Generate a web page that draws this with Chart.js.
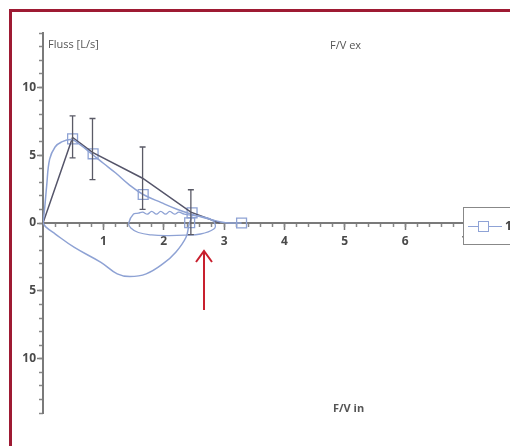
<!DOCTYPE html>
<html lang="de">
<head>
<meta charset="UTF-8">
<title>F/V Kurve</title>
<script src="https://cdn.jsdelivr.net/npm/chart.js"></script>
<style>
    body { margin: 0; background: #fff; }
    #wrap { position: relative; width: 510px; height: 446px; overflow: hidden; font-family: "Open Sans", "Noto Sans", sans-serif; }
    #frame { position: absolute; left: 9px; top: 9px; width: 520px; height: 460px; border-left: 3px solid #9e1a33; border-top: 3px solid #9e1a33; box-sizing: border-box; }
    .lbl { position: absolute; font-size: 11px; color: #555; white-space: nowrap; }
    #legend { position: absolute; left: 463px; top: 207px; width: 60px; height: 38px; border: 1px solid #888; background: #fff; box-sizing: border-box; }
    #legend .ln { position: absolute; left: 4px; top: 18px; width: 34px; height: 1px; background: #8fa3d6; }
    #legend .sq { position: absolute; left: 14px; top: 13px; width: 9px; height: 9px; border: 1px solid #8fa3d6; background: #fff; }
    #legend .tx { position: absolute; left: 41px; top: 9px; font-size: 12px; font-weight: bold; color: #444; }
</style>
</head>
<body>
<div id="wrap">
    <canvas id="fvChart" width="510" height="446"></canvas>
    <div id="frame"></div>
    <div class="lbl" style="left:48px; top:36px;">Fluss [L/s]</div>
    <div class="lbl" style="left:330px; top:37px;">F/V ex</div>
    <div class="lbl" style="left:333px; top:400px; font-weight:bold;">F/V in</div>
    <div id="legend"><div class="ln"></div><div class="sq"></div><div class="tx">1</div></div>
    <svg width="510" height="446" style="position:absolute; left:0; top:0;">
        <line x1="204" y1="310" x2="204" y2="252" stroke="#c8202e" stroke-width="2"/>
        <polyline points="196,262 204,251 212,262" fill="none" stroke="#c8202e" stroke-width="2"/>
    </svg>
</div>

<script>
// Ausatmung (gemessene Kurve)
const expX = [0, 0.03, 0.06, 0.11, 0.2, 0.3, 0.47, 0.62, 0.82, 1.0, 1.2, 1.42, 1.66, 1.96, 2.23, 2.5, 2.75, 2.95, 3.1, 3.29];
const expY = [0, 1.2, 2.7, 4.7, 5.6, 5.95, 6.15, 5.75, 5.05, 4.4, 3.7, 2.85, 2.1, 1.5, 1.0, 0.6, 0.3, 0.08, 0, 0];

// Einatmung
const inX = [0, 0.05, 0.2, 0.52, 0.96, 1.23, 1.44, 1.71, 1.99, 2.2, 2.37, 2.42, 2.47];
const inY = [0, -0.3, -0.8, -1.8, -2.9, -3.75, -3.95, -3.75, -3.0, -2.15, -1.05, -0.1, 0.5];

// kleine Schleife
const loopX = [2.6, 2.34, 2.25, 2.18, 2.1, 2.03, 1.95, 1.88, 1.8, 1.73, 1.65, 1.58, 1.5, 1.42, 1.45, 1.58, 1.8, 2.07, 2.35, 2.61, 2.83, 2.85, 2.77, 2.6];
const loopY = [0.5, 0.66, 0.8, 0.65, 0.85, 0.65, 0.85, 0.65, 0.85, 0.65, 0.8, 0.72, 0.66, 0.0, -0.35, -0.7, -0.88, -0.93, -0.9, -0.81, -0.44, -0.07, 0.3, 0.5];

// Mittelwert mit Fehlerbalken
const meanX = [0, 0.49, 0.82, 1.65, 2.45, 2.93];
const meanY = [0, 6.3, 5.2, 3.3, 0.8, 0];
const errHigh = [null, 7.9, 7.7, 5.6, 2.45, null];
const errLow = [null, 4.8, 3.2, 1.0, -0.85, null];

// Messpunkte (Serie 1)
const markX = [0.49, 0.83, 1.66, 2.47, 2.43, 3.29];
const markY = [6.2, 5.1, 2.1, 0.75, 0.02, 0];

const xTicks = [1, 2, 3, 4, 5, 6, 7];
const yTicks = [-10, -5, 0, 5, 10];

function pts(xs, ys) {
    return xs.map((x, i) => ({ x: x, y: ys[i] }));
}

const blue = "#8ea2d4";

const errorBars = {
    id: "errorBars",
    afterDatasetsDraw(chart) {
        const ctx = chart.ctx;
        const xs = chart.scales.x, ys = chart.scales.y;
        ctx.save();
        ctx.strokeStyle = "#5a5a66";
        ctx.lineWidth = 1.3;
        meanX.forEach((x, i) => {
            if (errHigh[i] === null) return;
            const px = xs.getPixelForValue(x);
            const top = ys.getPixelForValue(errHigh[i]);
            const bot = ys.getPixelForValue(errLow[i]);
            ctx.beginPath();
            ctx.moveTo(px, top); ctx.lineTo(px, bot);
            ctx.moveTo(px - 3, top); ctx.lineTo(px + 3, top);
            ctx.moveTo(px - 3, bot); ctx.lineTo(px + 3, bot);
            ctx.stroke();
        });
        ctx.restore();
    }
};

const axisFont = { family: "'Open Sans', sans-serif", size: 12, weight: "bold" };

new Chart(document.getElementById("fvChart"), {
    type: "scatter",
    data: {
        datasets: [
            { data: pts(inX, inY), showLine: true, tension: 0.4, borderColor: blue, borderWidth: 1.5, pointRadius: 0 },
            { data: pts(loopX, loopY), showLine: true, tension: 0.4, borderColor: blue, borderWidth: 1.3, pointRadius: 0 },
            { data: pts(expX, expY), showLine: true, tension: 0.4, borderColor: blue, borderWidth: 1.5, pointRadius: 0 },
            { data: pts(meanX, meanY), showLine: true, tension: 0, borderColor: "#55556a", borderWidth: 1.5, pointRadius: 0 },
            { data: pts(markX, markY), showLine: false, pointStyle: "rect", pointRadius: 7, borderColor: blue, borderWidth: 1.3, backgroundColor: "rgba(255,255,255,0)" }
        ]
    },
    options: {
        responsive: false,
        animation: false,
        layout: { padding: { left: 0, top: 33, right: 0, bottom: 33 } },
        plugins: { legend: { display: false }, tooltip: { enabled: false } },
        scales: {
            x: {
                type: "linear", min: 0, max: 7.6, position: { y: 0 },
                border: { color: "#7a7a7a", width: 2 },
                grid: { drawOnChartArea: false, tickLength: 6, tickColor: "#7a7a7a", tickWidth: 1.5 },
                afterBuildTicks: s => { s.ticks = xTicks.map(v => ({ value: v })); },
                ticks: { color: "#4a4a4a", font: axisFont, padding: 5 }
            },
            xMinor: {
                type: "linear", axis: "x", min: 0, max: 7.6, position: { y: 0 },
                border: { display: false },
                grid: { drawOnChartArea: false, tickLength: 4, tickColor: "#888", tickWidth: 1.5 },
                ticks: { stepSize: 0.2, autoSkip: false, display: false }
            },
            y: {
                type: "linear", min: -14, max: 14, position: "left",
                border: { color: "#7a7a7a", width: 2 },
                grid: { drawOnChartArea: false, tickLength: 6, tickColor: "#7a7a7a", tickWidth: 1.5 },
                afterBuildTicks: s => { s.ticks = yTicks.map(v => ({ value: v })); },
                afterFit: s => { s.width = 43; },
                ticks: { color: "#4a4a4a", font: axisFont, padding: 1, callback: v => String(Math.abs(v)) }
            },
            yMinor: {
                type: "linear", axis: "y", min: -14, max: 14, position: { x: 0 },
                border: { display: false },
                grid: { drawOnChartArea: false, tickLength: 4, tickColor: "#888", tickWidth: 1.5 },
                ticks: { stepSize: 1, autoSkip: false, display: false }
            }
        }
    },
    plugins: [errorBars]
});
</script>
</body>
</html>
